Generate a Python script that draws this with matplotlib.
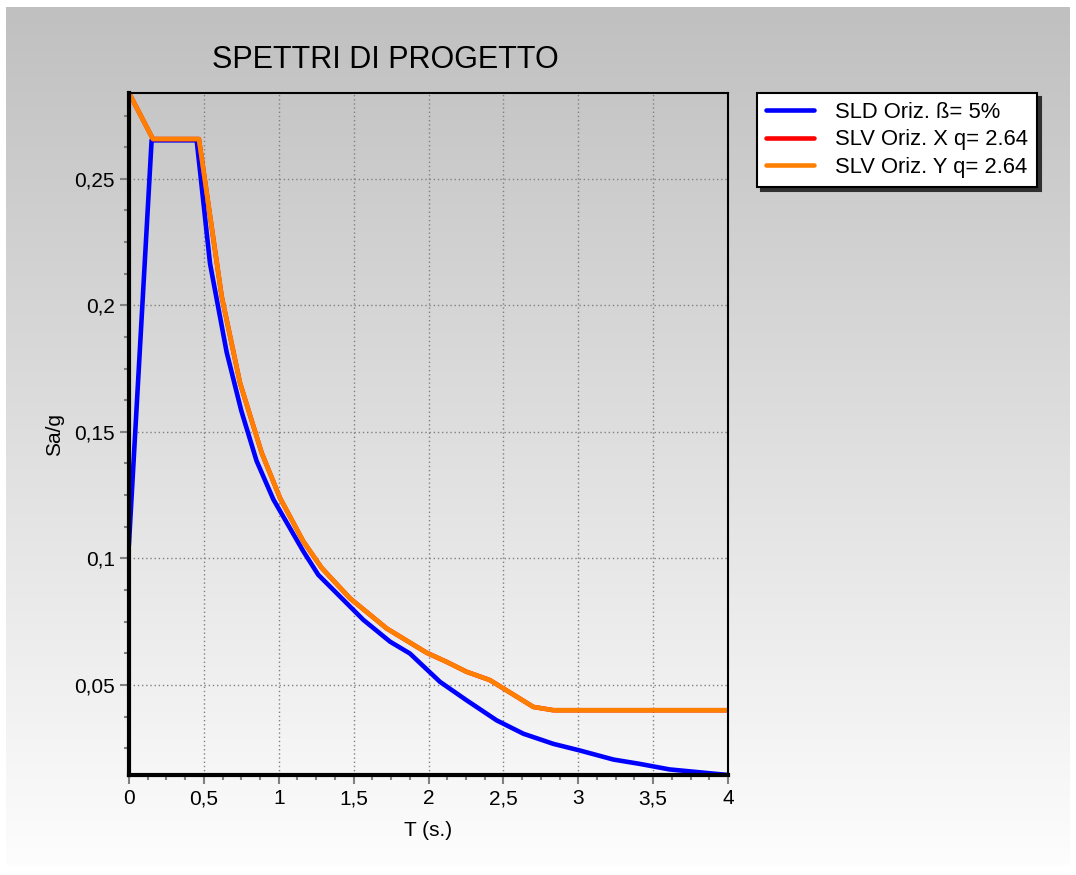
import numpy as np
import matplotlib
matplotlib.use("Agg")
from matplotlib import pyplot as plt
from matplotlib.colors import LinearSegmentedColormap
from matplotlib.ticker import MultipleLocator, FuncFormatter

plt.rcParams['font.family'] = ['Liberation Sans', 'DejaVu Sans']

# SLD Oriz. (blue)
t_sld = [0, 0.151, 0.452, 0.541, 0.652, 0.75, 0.852, 0.964, 1.164, 1.264, 1.565,
         1.743, 1.876, 2.077, 2.255, 2.455, 2.634, 2.834, 3.01, 3.235, 3.41, 3.61, 4.0]
sa_sld = [0.106, 0.2652, 0.2652, 0.2165, 0.1815, 0.1583, 0.1385, 0.1233, 0.1028, 0.0935, 0.0757,
          0.0671, 0.0624, 0.0512, 0.0439, 0.0360, 0.0307, 0.0267, 0.0241, 0.0205, 0.0188, 0.0166, 0.0144]

# SLV Oriz. X / Y (same values, orange drawn over red)
t_slv = [0, 0.16, 0.467, 0.619, 0.741, 0.886, 1.008, 1.164, 1.287, 1.476, 1.721,
         1.988, 2.121, 2.254, 2.41, 2.70, 2.834, 4.0]
sa_slv_x = [0.2839, 0.2657, 0.2657, 0.2035, 0.1694, 0.1417, 0.1239, 0.1067, 0.0962, 0.0842, 0.0723,
            0.0627, 0.0591, 0.0552, 0.0519, 0.0413, 0.0400, 0.0400]
sa_slv_y = list(sa_slv_x)

labels = ['SLD Oriz. ß= 5%', 'SLV Oriz. X q= 2.64', 'SLV Oriz. Y q= 2.64']
colors = ['#0000ff', '#ff0000', '#ff8000']

W, H = 1076, 875
fig = plt.figure(figsize=(W / 100, H / 100), dpi=100)
fig.patch.set_facecolor('white')

# gradient panel behind everything
bg = fig.add_axes([6 / W, 1 - 866 / H, 1064 / W, 859 / H], zorder=-10)
cmap = LinearSegmentedColormap.from_list('g', ['#c0c0c0', '#fdfdfd'])
bg.imshow(np.linspace(0, 1, 256).reshape(-1, 1), aspect='auto', cmap=cmap,
          extent=[0, 1, 0, 1], origin='upper')
bg.axis('off')

ax = fig.add_axes([129 / W, 1 - 775 / H, 599 / W, 682 / H])
ax.set_facecolor('none')

ax.plot(t_sld, sa_sld, color=colors[0], lw=3.3, label=labels[0], zorder=3)
ax.plot(t_slv, sa_slv_x, color=colors[1], lw=3.3, label=labels[1], zorder=4)
ax.plot(t_slv, sa_slv_y, color=colors[2], lw=3.3, label=labels[2], zorder=5)

ax.set_xlim(0, 4)
ax.set_ylim(min(sa_sld), max(sa_slv_x))

comma = FuncFormatter(lambda v, p: ('%g' % round(v, 4)).replace('.', ','))
ax.xaxis.set_major_locator(MultipleLocator(0.5))
ax.xaxis.set_minor_locator(MultipleLocator(0.125))
ax.yaxis.set_major_locator(MultipleLocator(0.05))
ax.yaxis.set_minor_locator(MultipleLocator(0.0125))
ax.xaxis.set_major_formatter(comma)
ax.yaxis.set_major_formatter(comma)

ax.tick_params(which='major', direction='out', length=6.5, width=1.5, color='#808080',
               labelsize=15, pad=3.6)
ax.tick_params(which='minor', direction='out', length=3.6, width=1.5, color='#808080')
ax.grid(True, which='major', color='#808080', lw=1.0, linestyle=(0, (1, 2)))

ax.spines['left'].set_linewidth(3)
ax.spines['bottom'].set_linewidth(3)
ax.spines['top'].set_linewidth(1.5)
ax.spines['right'].set_linewidth(1.5)
for s in ax.spines.values():
    s.set_color('black')
    s.set_zorder(6)

fig.text(385 / W, 1 - 60 / H, 'SPETTRI DI PROGETTO', fontsize=22, ha='center', va='center')
fig.text(55 / W, 1 - 434 / H, 'Sa/g', fontsize=15, rotation=90, ha='center', va='center')
fig.text(428 / W, 1 - 830 / H, 'T (s.)', fontsize=15, ha='center', va='center')

leg = ax.legend(loc='upper left', bbox_to_anchor=(757 / W, 1 - 93 / H), bbox_transform=fig.transFigure,
                fontsize=15.8, frameon=True, fancybox=False, framealpha=1, edgecolor='black',
                handlelength=2.2, handletextpad=0.95, labelspacing=0.3, borderpad=0.4,
                borderaxespad=0, shadow={'color': '#303030', 'alpha': 1, 'ox': 3, 'oy': -3})
leg.get_frame().set_linewidth(1.5)
for line in leg.get_lines():
    line.set_linewidth(3.3)
    line.set_solid_capstyle('round')

fig.savefig('out.png', dpi=100)
